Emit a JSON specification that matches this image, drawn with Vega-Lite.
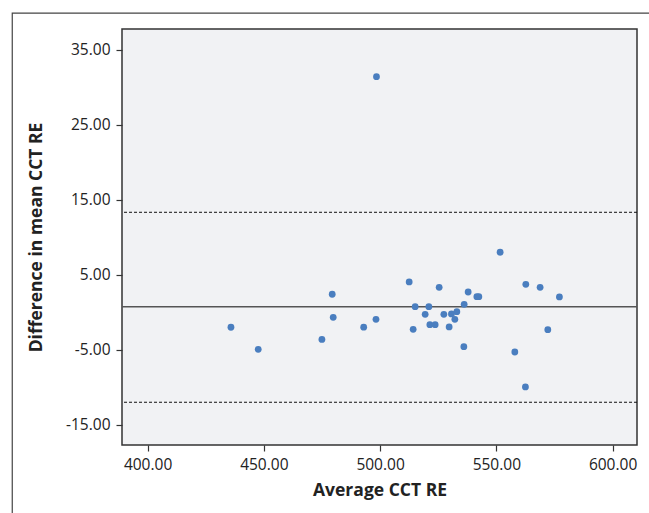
{
  "$schema": "https://vega.github.io/schema/vega-lite/v6.json",
  "width": 515,
  "height": 416,
  "autosize": {"type": "none"},
  "padding": {"left": 122, "top": 29, "right": 12, "bottom": 68},
  "background": "white",
  "config": {
    "view": {"stroke": "#333333", "strokeWidth": 1.5, "fill": "#f1f2f4"},
    "font": "Open Sans",
    "axis": {
      "domain": false,
      "grid": false,
      "ticks": true,
      "tickColor": "#333333",
      "tickSize": 6,
      "tickWidth": 1.2,
      "labelFont": "Open Sans",
      "labelFontSize": 15.5,
      "labelColor": "#222222",
      "labelPadding": 6,
      "titleFont": "Open Sans",
      "titleFontSize": 17.5,
      "titleFontWeight": "bold",
      "titleColor": "#222222"
    }
  },
  "layer": [
    {
      "data": {"values": [{"frame": 1}]},
      "mark": {"type": "rect", "fill": null, "stroke": "#444444", "strokeWidth": 1.2, "clip": false},
      "encoding": {
        "x": {"datum": 341.8, "type": "quantitative", "scale": {"domain": [389.0, 610.5], "nice": false, "zero": false}},
        "x2": {"datum": 620.4},
        "y": {"datum": 39.93, "type": "quantitative", "scale": {"domain": [-17.67, 37.8], "nice": false, "zero": false}},
        "y2": {"datum": -27.7}
      }
    },
    {
      "data": {"values": [
        {"limit": "upper", "diff": 13.36},
        {"limit": "lower", "diff": -11.97}
      ]},
      "mark": {"type": "rule", "stroke": "#111111", "strokeWidth": 1, "strokeDash": [3, 2]},
      "encoding": {
        "y": {"field": "diff", "type": "quantitative"}
      }
    },
    {
      "data": {"values": [{"limit": "mean", "diff": 0.78}]},
      "mark": {"type": "rule", "stroke": "#555555", "strokeWidth": 1.5},
      "encoding": {
        "y": {"field": "diff", "type": "quantitative"}
      }
    },
    {
      "data": {"values": [
        {"avg": 498.45, "diff": 31.44},
        {"avg": 435.86, "diff": -1.97},
        {"avg": 447.59, "diff": -4.91},
        {"avg": 474.98, "diff": -3.60},
        {"avg": 479.41, "diff": 2.43},
        {"avg": 479.84, "diff": -0.64},
        {"avg": 492.95, "diff": -1.96},
        {"avg": 498.24, "diff": -0.91},
        {"avg": 512.51, "diff": 4.07},
        {"avg": 515.09, "diff": 0.77},
        {"avg": 514.23, "diff": -2.24},
        {"avg": 519.39, "diff": -0.24},
        {"avg": 520.98, "diff": 0.77},
        {"avg": 521.41, "diff": -1.63},
        {"avg": 523.69, "diff": -1.63},
        {"avg": 525.41, "diff": 3.36},
        {"avg": 527.43, "diff": -0.24},
        {"avg": 529.71, "diff": -1.93},
        {"avg": 530.70, "diff": -0.20},
        {"avg": 532.16, "diff": -0.91},
        {"avg": 533.02, "diff": 0.11},
        {"avg": 536.03, "diff": -4.56},
        {"avg": 536.16, "diff": 1.09},
        {"avg": 537.88, "diff": 2.73},
        {"avg": 541.62, "diff": 2.11},
        {"avg": 542.48, "diff": 2.11},
        {"avg": 551.63, "diff": 8.03},
        {"avg": 562.68, "diff": 3.76},
        {"avg": 568.83, "diff": 3.36},
        {"avg": 577.13, "diff": 2.07},
        {"avg": 572.14, "diff": -2.29},
        {"avg": 557.95, "diff": -5.27},
        {"avg": 562.51, "diff": -9.93}
      ]},
      "mark": {"type": "circle", "color": "#4a7ebf", "opacity": 1, "size": 46},
      "encoding": {
        "x": {
          "field": "avg", "type": "quantitative",
          "title": "Average CCT RE",
          "axis": {"values": [400, 450, 500, 550, 600], "format": ".2f", "titlePadding": 9}
        },
        "y": {
          "field": "diff", "type": "quantitative",
          "title": "Difference in mean CCT RE",
          "axis": {
            "values": [35, 25, 15, 5, -5, -15],
            "labelExpr": "(datum.value < 0 ? '-' : '') + format(abs(datum.value), '.2f')",
            "titlePadding": 20
          }
        }
      }
    }
  ]
}
